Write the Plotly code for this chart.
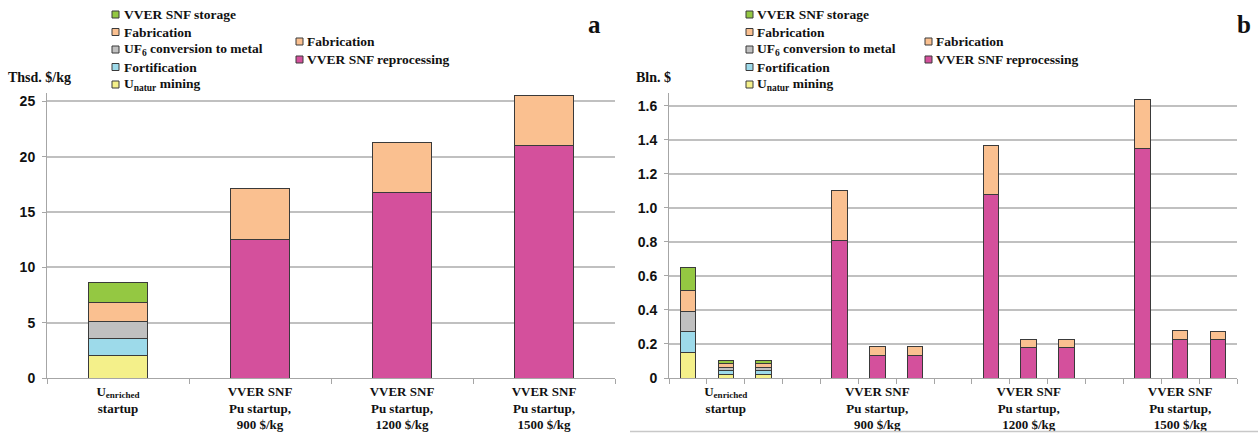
import plotly.graph_objects as go

# ---------------- data ----------------
# Panel a: Thsd. $/kg
a_categories = [
    "U<sub>enriched</sub><br>startup",
    "VVER SNF<br>Pu startup,<br>900 $/kg",
    "VVER SNF<br>Pu startup,<br>1200 $/kg",
    "VVER SNF<br>Pu startup,<br>1500 $/kg",
]
a_u_mining = [2.0]
a_u_fortification = [1.6]
a_u_conversion = [1.5]
a_u_fabrication = [1.7]
a_u_storage = [1.8]
a_pu_reprocessing = [12.5, 16.8, 21.0]
a_pu_fabrication = [4.6, 4.5, 4.5]
a_yticks = [0, 5, 10, 15, 20, 25]

# Panel b: Bln. $  (15 slots: 3 U bars, gap, 3 bars per Pu scenario separated by gaps)
b_u_slots = [0, 1, 2]
b_u_mining = [0.150, 0.022, 0.022]
b_u_fortification = [0.124, 0.020, 0.020]
b_u_conversion = [0.116, 0.020, 0.020]
b_u_fabrication = [0.123, 0.021, 0.021]
b_u_storage = [0.137, 0.022, 0.022]
b_pu_slots = [4, 5, 6, 8, 9, 10, 12, 13, 14]
b_pu_reprocessing = [0.807, 0.135, 0.135, 1.080, 0.180, 0.180, 1.350, 0.228, 0.225]
b_pu_fabrication = [0.293, 0.049, 0.049, 0.285, 0.049, 0.049, 0.285, 0.050, 0.050]
b_label_slots = [1, 5, 9, 13]
b_yticks = [0, 0.2, 0.4, 0.6, 0.8, 1.0, 1.2, 1.4, 1.6]
b_yticktext = ["0", "0.2", "0.4", "0.6", "0.8", "1.0", "1.2", "1.4", "1.6"]

legend_u_names = ["VVER SNF storage", "Fabrication", "UF<sub>6</sub> conversion to metal",
                  "Fortification", "U<sub>natur</sub> mining"]
legend_pu_names = ["Fabrication", "VVER SNF reprocessing"]

# ---------------- styles ----------------
C_STORAGE = "#94c842"
C_FAB = "#fac090"
C_CONV = "#c0c0c0"
C_FORT = "#9ddaea"
C_MINING = "#f4f08a"
C_REPRO = "#d4509c"
legend_u_colors = [C_STORAGE, C_FAB, C_CONV, C_FORT, C_MINING]
legend_pu_colors = [C_FAB, C_REPRO]

EDGE = dict(color="#3a3a3a", width=1)
SERIF = "Liberation Serif, Times New Roman, serif"
SANS = "Liberation Sans, Arial, sans-serif"
GRID = "#c0c0c0"
AXIS = "#a6a6a6"

fig = go.Figure()

def add_bar(x, y, color, xa, ya, name):
    fig.add_trace(go.Bar(x=x, y=y, name=name, marker=dict(color=color, line=EDGE),
                         xaxis=xa, yaxis=ya, showlegend=False,
                         hovertemplate=name + ": %{y}<extra></extra>"))

# panel a
a_u_x = [0]
a_pu_x = [1, 2, 3]
add_bar(a_u_x, a_u_mining, C_MINING, "x", "y", "Unatur mining")
add_bar(a_u_x, a_u_fortification, C_FORT, "x", "y", "Fortification")
add_bar(a_u_x, a_u_conversion, C_CONV, "x", "y", "UF6 conversion to metal")
add_bar(a_u_x, a_u_fabrication, C_FAB, "x", "y", "Fabrication")
add_bar(a_u_x, a_u_storage, C_STORAGE, "x", "y", "VVER SNF storage")
add_bar(a_pu_x, a_pu_reprocessing, C_REPRO, "x", "y", "VVER SNF reprocessing")
add_bar(a_pu_x, a_pu_fabrication, C_FAB, "x", "y", "Fabrication")

# panel b
add_bar(b_u_slots, b_u_mining, C_MINING, "x2", "y2", "Unatur mining")
add_bar(b_u_slots, b_u_fortification, C_FORT, "x2", "y2", "Fortification")
add_bar(b_u_slots, b_u_conversion, C_CONV, "x2", "y2", "UF6 conversion to metal")
add_bar(b_u_slots, b_u_fabrication, C_FAB, "x2", "y2", "Fabrication")
add_bar(b_u_slots, b_u_storage, C_STORAGE, "x2", "y2", "VVER SNF storage")
add_bar(b_pu_slots, b_pu_reprocessing, C_REPRO, "x2", "y2", "VVER SNF reprocessing")
add_bar(b_pu_slots, b_pu_fabrication, C_FAB, "x2", "y2", "Fabrication")

W, H = 1258, 444      # figure size in px
REF_H = 436           # positions below are measured on a 436 px tall layout

def py(y):
    return 1 - y / REF_H

ydom = [py(378), py(93)]

xcommon = dict(showline=True, linecolor=AXIS, linewidth=1, showgrid=False, zeroline=False,
               ticks="", tickfont=dict(family=SERIF, size=13, color="#111", weight="bold"),
               ticklabelstandoff=1,
               minor=dict(tick0=0.5, dtick=1, ticks="outside", ticklen=5, tickcolor=AXIS,
                          showgrid=False),
               fixedrange=True)
ycommon = dict(showline=True, linecolor=AXIS, linewidth=1, showgrid=True, gridcolor=GRID,
               gridwidth=1.5, zeroline=False, ticks="outside", ticklen=4, tickcolor=AXIS,
               tickfont=dict(family=SANS, size=14, color="#111", weight="bold"),
               ticklabelstandoff=4, fixedrange=True)

fig.update_layout(
    width=W, height=H, margin=dict(l=0, r=0, t=0, b=0),
    paper_bgcolor="white", plot_bgcolor="white",
    barmode="stack", bargap=0.59, showlegend=False,
    xaxis=dict(domain=[47 / W, 615 / W], range=[-0.5, 3.5], tickmode="array",
               tickvals=[0, 1, 2, 3], ticktext=a_categories, anchor="y", **xcommon),
    yaxis=dict(domain=ydom, range=[0, 285 / 11.064], tickmode="array", tickvals=a_yticks,
               anchor="x", **ycommon),
    xaxis2=dict(domain=[669 / W, 1237 / W], range=[-0.5, 14.5], tickmode="array",
                tickvals=b_label_slots, ticktext=a_categories, anchor="y2", **xcommon),
    yaxis2=dict(domain=ydom, range=[0, 285 / 170.2], tickmode="array", tickvals=b_yticks,
                ticktext=b_yticktext, anchor="x2", **ycommon),
)

# ---------------- legends (drawn as annotations + squares) ----------------
LFONT = dict(family=SERIF, size=13.5, color="#111", weight="bold")
shapes = []
annotations = []

def legend_block(names, colors, sq_x, text_x, y_first, step):
    for i, (n, c) in enumerate(zip(names, colors)):
        yc = y_first + i * step
        shapes.append(dict(type="rect", xref="paper", yref="paper",
                           x0=sq_x / W, x1=(sq_x + 7) / W,
                           y0=py(yc + 3.5), y1=py(yc - 3.5),
                           fillcolor=c, line=dict(color="#3a3a3a", width=1)))
        annotations.append(dict(text=n, xref="paper", yref="paper", x=text_x / W,
                                y=py(yc), xanchor="left", yanchor="middle",
                                showarrow=False, font=LFONT))

legend_block(legend_u_names, legend_u_colors, 112, 122, 14.5, 17.5)
legend_block(legend_pu_names, legend_pu_colors, 296, 305, 41.5, 18)
legend_block(legend_u_names, legend_u_colors, 746, 755, 14.5, 17.5)
legend_block(legend_pu_names, legend_pu_colors, 925, 934, 41.5, 18)

# axis titles and panel letters
TFONT = dict(family=SERIF, size=14, color="#111", weight="bold")
annotations.append(dict(text="Thsd. $/kg", xref="paper", yref="paper", x=6 / W, y=py(77),
                        xanchor="left", yanchor="middle", showarrow=False, font=TFONT))
annotations.append(dict(text="Bln. $", xref="paper", yref="paper", x=634 / W, y=py(77),
                        xanchor="left", yanchor="middle", showarrow=False, font=TFONT))
annotations.append(dict(text="a", xref="paper", yref="paper", x=594 / W, y=py(24),
                        xanchor="center", yanchor="middle", showarrow=False,
                        font=dict(family=SERIF, size=25, color="#111", weight="bold")))
annotations.append(dict(text="b", xref="paper", yref="paper", x=1244 / W, y=py(24),
                        xanchor="center", yanchor="middle", showarrow=False,
                        font=dict(family=SERIF, size=25, color="#111", weight="bold")))

# bottom frame line of panel b
shapes.append(dict(type="line", xref="paper", yref="paper", x0=630 / W, x1=1.0,
                   y0=py(431.5), y1=py(431.5), line=dict(color="#c8c8c8", width=1.5)))

fig.update_layout(shapes=shapes, annotations=annotations)

fig.write_html(
    "out.html",
    config={"displayModeBar": False},
    post_script=(
        "document.documentElement.style.overflow='hidden';"
        "document.body.style.margin='0px';"
        "document.body.style.overflow='hidden';"
    ),
)
